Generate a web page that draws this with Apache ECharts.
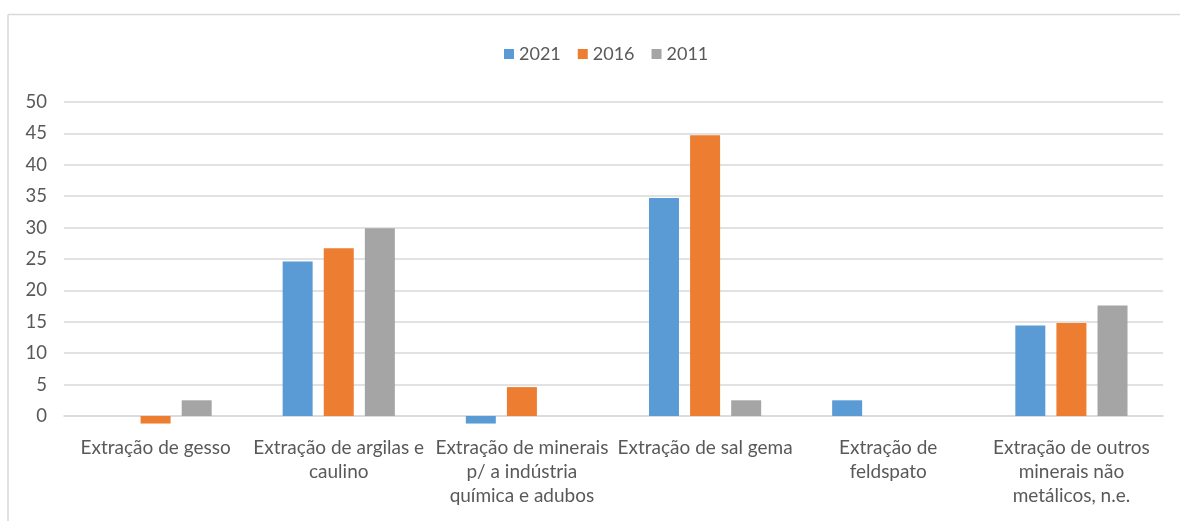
<!DOCTYPE html>
<html>
<head>
<meta charset="utf-8">
<script src="https://cdn.jsdelivr.net/npm/echarts@6/dist/echarts.min.js"></script>
<style>
html,body{margin:0;padding:0;background:#fff;}
#chart{width:1180px;height:521px;}
</style>
</head>
<body>
<div id="chart"></div>
<script>
const categories = [
  'Extração de gesso',
  'Extração de argilas e\ncaulino',
  'Extração de minerais\np/ a indústria\nquímica e adubos',
  'Extração de sal gema',
  'Extração de\nfeldspato',
  'Extração de outros\nminerais não\nmetálicos, n.e.'
]
const years = ['2021', '2016', '2011']
const v2021 = [0, 24.6, -1.2, 34.7, 2.5, 14.4]
const v2016 = [-1.2, 26.7, 4.6, 44.7, 0, 14.8]
const v2011 = [2.5, 29.9, 0, 2.5, 0, 17.6]
const yTicks = [0, 5, 10, 15, 20, 25, 30, 35, 40, 45, 50]

const colors = ['#5b9bd5', '#ed7d31', '#a5a5a5']
const font = 'Lato, "Open Sans", sans-serif'

const chart = echarts.init(document.getElementById('chart'))

function bar(name, data, color){
  return {
    name,
    type: 'bar',
    data,
    barWidth: 30,
    barGap: '37%',
    clip: false,
    itemStyle: {color},
    emphasis: {disabled: true}
  }
}

chart.setOption({
  animation: false,
  color: colors,
  graphic: [
    {type: 'line', shape: {x1: 8, y1: 14.5, x2: 1180, y2: 14.5}, style: {stroke: '#d9d9d9', lineWidth: 1.5}},
    {type: 'line', shape: {x1: 8, y1: 14.5, x2: 8, y2: 521}, style: {stroke: '#d9d9d9', lineWidth: 1.5}}
  ],
  legend: {
    top: 40,
    left: 499,
    itemWidth: 10,
    itemHeight: 10,
    itemGap: 17,
    icon: 'rect',
    data: years,
    textStyle: {fontFamily: font, fontSize: 18, color: '#595959'}
  },
  grid: {left: 64, right: 17, top: 102, bottom: 105},
  xAxis: {
    type: 'category',
    data: categories,
    axisLine: {show: true, lineStyle: {color: '#d9d9d9', width: 1.5}},
    axisTick: {show: false},
    axisLabel: {
      interval: 0,
      margin: 20,
      fontFamily: font,
      fontSize: 19,
      lineHeight: 24,
      color: '#595959',
      align: 'center'
    }
  },
  yAxis: {
    type: 'value',
    min: 0,
    max: 50,
    interval: 5,
    axisLine: {show: false},
    axisTick: {show: false},
    splitLine: {lineStyle: {color: '#d9d9d9', width: 1.5}},
    axisLabel: {
      margin: 17,
      fontFamily: font,
      fontSize: 18.5,
      color: '#595959',
      formatter: v => yTicks.includes(v) ? String(v) : ''
    }
  },
  series: [
    bar(years[0], v2021, colors[0]),
    bar(years[1], v2016, colors[1]),
    bar(years[2], v2011, colors[2])
  ]
})
</script>
</body>
</html>
